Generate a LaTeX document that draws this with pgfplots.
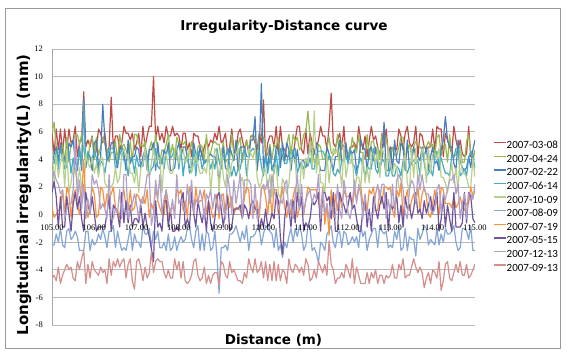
\documentclass[border=0pt]{standalone}
\usepackage{fontspec}
\usepackage{pgfplots}
\usepackage{pgfplotstable}
\pgfplotsset{compat=1.18}
\setmainfont{Carlito}
\newfontfamily\tickfont{Liberation Serif}
\newfontfamily\labfont{DejaVu Sans}
\definecolor{s1}{HTML}{BE4B48}
\definecolor{s2}{HTML}{98B954}
\definecolor{s3}{HTML}{4A7EBB}
\definecolor{s4}{HTML}{46AAC5}
\definecolor{s5}{HTML}{B7D08E}
\definecolor{s6}{HTML}{86A6D4}
\definecolor{s7}{HTML}{F69240}
\definecolor{s8}{HTML}{6F539B}
\definecolor{s9}{HTML}{B1A0C7}
\definecolor{s10}{HTML}{D48F8D}
% 2007-03-08
\pgfplotstableread[row sep=\\]{y\\
5.9\\4.4\\6.2\\4.7\\6.2\\4.4\\6.2\\4.7\\6.2\\5.2\\
5.4\\6.4\\4.2\\5.2\\5.4\\8.9\\4.9\\5.4\\4.9\\5.7\\
4.2\\4.7\\6.2\\5.9\\5.2\\5.9\\4.4\\4.9\\8.5\\4.7\\
5.7\\5.7\\4.7\\5.2\\6.4\\5.9\\5.9\\5.4\\5.9\\4.7\\
5.2\\5.9\\4.2\\6.4\\4.9\\5.7\\6.4\\6.4\\10.0\\5.4\\
6.4\\5.4\\5.9\\5.2\\6.4\\5.7\\5.7\\6.4\\5.7\\5.9\\
5.7\\4.7\\5.9\\5.9\\4.7\\5.2\\4.2\\5.9\\5.7\\5.7\\
4.9\\4.2\\4.9\\5.4\\4.9\\5.4\\5.2\\5.9\\5.4\\6.4\\
5.2\\5.4\\5.9\\4.4\\4.9\\6.2\\4.7\\4.4\\5.9\\6.2\\
5.4\\4.7\\5.4\\4.4\\5.7\\5.7\\5.2\\4.7\\5.9\\5.2\\
8.3\\4.0\\5.2\\5.7\\5.7\\4.9\\6.4\\4.4\\6.4\\4.9\\
4.7\\4.2\\4.2\\4.9\\4.2\\5.4\\6.4\\6.4\\4.7\\4.4\\
6.2\\4.4\\5.9\\5.2\\4.4\\4.9\\5.4\\6.4\\5.7\\5.7\\
4.7\\6.4\\8.8\\5.2\\4.9\\5.4\\5.9\\4.7\\6.4\\4.2\\
4.2\\4.9\\4.9\\5.2\\4.7\\6.4\\5.4\\4.7\\5.7\\4.2\\
5.4\\6.4\\5.4\\5.7\\4.9\\4.2\\5.9\\4.9\\6.2\\4.4\\
4.9\\4.7\\4.9\\4.7\\6.2\\5.7\\4.7\\5.9\\6.4\\5.2\\
4.9\\5.2\\6.4\\4.2\\5.9\\5.7\\4.9\\4.7\\4.9\\4.9\\
6.2\\4.7\\6.4\\6.2\\6.2\\4.2\\5.9\\5.4\\4.9\\4.4\\
6.4\\5.4\\4.7\\5.4\\4.4\\4.2\\4.4\\6.4\\4.2\\4.4\\4.4\\
}\tabA
% 2007-04-24
\pgfplotstableread[row sep=\\]{y\\
5.9\\6.7\\4.9\\4.5\\4.5\\5.1\\3.8\\5.6\\3.8\\5.1\\
5.3\\5.8\\5.8\\5.1\\5.8\\4.7\\3.8\\3.8\\5.3\\5.6\\
4.0\\5.6\\4.3\\4.9\\5.6\\5.1\\4.7\\3.8\\4.5\\4.5\\
5.3\\3.8\\5.8\\4.9\\5.1\\4.7\\4.3\\5.3\\3.8\\5.8\\
5.8\\5.1\\5.1\\4.9\\5.3\\3.8\\4.7\\5.3\\4.5\\5.8\\
4.7\\3.8\\4.7\\4.5\\5.1\\5.8\\4.3\\5.1\\4.0\\5.6\\
5.1\\5.3\\5.1\\5.3\\4.0\\4.5\\5.3\\4.3\\3.8\\4.9\\
5.1\\4.9\\3.8\\5.8\\4.3\\4.5\\5.1\\5.3\\5.1\\5.1\\
4.0\\5.3\\3.8\\4.0\\4.0\\5.8\\4.3\\4.7\\5.1\\5.6\\
3.8\\4.7\\5.3\\4.7\\5.6\\5.8\\5.6\\3.8\\5.8\\5.6\\
5.6\\4.7\\4.3\\5.1\\4.0\\5.1\\4.9\\5.6\\4.0\\4.3\\
3.8\\5.1\\5.8\\4.3\\5.8\\5.3\\5.6\\4.7\\4.9\\5.8\\
6.0\\7.5\\5.6\\4.9\\3.8\\3.8\\5.1\\4.9\\4.0\\4.0\\
4.9\\5.6\\4.5\\4.3\\4.7\\5.8\\3.8\\5.3\\4.9\\4.9\\
4.3\\4.5\\5.6\\4.9\\4.5\\5.8\\4.5\\4.5\\4.0\\5.8\\
4.0\\5.3\\5.3\\4.5\\4.9\\4.0\\5.8\\5.8\\5.6\\4.5\\
4.0\\4.9\\4.3\\4.3\\4.9\\5.6\\5.6\\4.0\\4.7\\5.1\\
4.3\\4.9\\5.3\\5.1\\4.9\\4.7\\4.9\\4.9\\5.3\\4.9\\
5.1\\4.3\\5.6\\5.8\\4.3\\4.7\\5.1\\3.8\\5.8\\4.3\\
4.3\\4.3\\4.9\\4.9\\3.8\\3.8\\5.3\\5.8\\4.5\\3.8\\4.7\\
}\tabB
% 2007-02-22
\pgfplotstableread[row sep=\\]{y\\
3.4\\4.4\\4.9\\3.9\\5.2\\3.9\\4.2\\3.4\\5.2\\4.9\\
5.4\\3.9\\3.2\\4.9\\3.2\\8.4\\3.4\\4.4\\4.2\\3.2\\
5.2\\5.4\\3.4\\4.2\\8.0\\5.4\\3.9\\4.2\\5.2\\5.2\\
4.2\\3.4\\4.7\\4.9\\4.4\\3.2\\5.4\\3.7\\4.2\\4.2\\
4.9\\4.7\\3.4\\4.2\\4.7\\3.2\\4.7\\4.7\\5.2\\3.2\\
5.2\\3.7\\3.7\\4.7\\4.2\\5.2\\3.2\\3.2\\3.4\\4.7\\
5.2\\4.2\\4.9\\4.9\\4.2\\3.4\\3.4\\5.2\\4.4\\3.9\\
4.9\\4.2\\3.7\\3.9\\4.2\\4.4\\4.2\\4.2\\3.7\\2.3\\
3.9\\4.9\\3.4\\3.2\\4.9\\4.4\\3.9\\5.4\\3.2\\4.9\\
4.9\\4.9\\4.2\\4.2\\5.4\\5.4\\7.1\\3.2\\4.7\\9.5\\
3.2\\4.4\\3.4\\4.9\\3.2\\3.7\\4.9\\4.7\\3.4\\5.2\\
3.9\\5.2\\4.7\\3.2\\4.7\\3.7\\4.7\\3.4\\3.9\\3.9\\
3.4\\3.9\\5.2\\4.2\\4.4\\5.2\\3.9\\3.2\\3.2\\3.2\\
4.9\\4.4\\3.7\\3.2\\4.2\\4.2\\5.4\\3.9\\3.9\\5.2\\
3.7\\4.7\\4.4\\4.7\\3.2\\3.7\\5.4\\4.9\\4.7\\3.2\\
4.7\\4.9\\3.9\\4.9\\3.4\\3.4\\3.9\\6.7\\3.2\\3.2\\
4.9\\3.2\\5.4\\3.9\\3.7\\5.2\\4.9\\3.2\\5.4\\3.4\\
3.7\\4.9\\4.2\\4.2\\3.9\\4.9\\4.2\\4.9\\3.2\\4.2\\
4.9\\3.7\\3.9\\3.2\\4.7\\5.4\\7.1\\5.4\\4.9\\4.9\\
3.7\\3.2\\5.4\\3.9\\3.4\\3.2\\3.4\\4.2\\3.4\\4.7\\5.4\\
}\tabC
% 2007-06-14
\pgfplotstableread[row sep=\\]{y\\
3.7\\3.7\\4.6\\3.3\\4.8\\4.3\\3.3\\3.5\\4.6\\3.0\\
4.1\\3.0\\3.5\\4.8\\3.5\\8.1\\3.5\\4.6\\4.1\\4.1\\
4.6\\4.1\\3.0\\3.9\\3.7\\3.0\\4.1\\4.8\\4.8\\4.8\\
3.3\\3.7\\4.3\\4.8\\3.9\\3.9\\2.8\\4.1\\4.1\\3.0\\
4.3\\3.5\\3.7\\3.5\\4.8\\4.3\\2.8\\3.3\\3.5\\4.8\\
3.5\\3.3\\4.1\\3.3\\4.6\\4.6\\4.1\\4.3\\4.8\\4.8\\
3.3\\4.8\\2.8\\4.1\\4.3\\3.0\\3.3\\4.8\\2.8\\4.6\\
4.3\\3.3\\3.9\\3.9\\4.1\\3.3\\3.9\\3.3\\4.8\\3.9\\
3.3\\4.3\\4.1\\4.8\\3.5\\2.8\\3.5\\2.8\\3.3\\3.3\\
4.3\\4.8\\2.8\\4.1\\4.6\\4.8\\4.6\\3.9\\4.6\\3.5\\
2.8\\4.3\\3.0\\4.1\\3.5\\3.0\\4.6\\2.8\\4.8\\4.3\\
3.7\\3.7\\4.6\\3.7\\4.6\\4.8\\3.0\\3.5\\3.7\\3.3\\
3.9\\3.5\\4.1\\3.3\\3.3\\4.3\\4.6\\4.6\\4.6\\4.3\\
3.7\\4.3\\4.1\\3.0\\2.8\\3.3\\3.0\\3.9\\3.9\\4.3\\
3.7\\4.8\\3.7\\3.5\\2.8\\3.7\\4.1\\3.5\\2.8\\3.5\\
3.3\\3.3\\4.8\\3.3\\3.0\\3.7\\3.9\\3.9\\2.8\\2.8\\
3.5\\2.8\\2.8\\3.5\\3.3\\2.8\\3.9\\3.5\\3.0\\3.5\\
3.9\\3.9\\3.7\\3.9\\2.8\\4.8\\3.7\\2.8\\3.0\\3.3\\
2.8\\4.1\\4.6\\3.5\\4.1\\3.5\\3.0\\3.0\\2.8\\4.3\\
4.1\\4.8\\4.8\\2.8\\3.0\\3.3\\2.8\\4.1\\4.6\\4.3\\3.3\\
}\tabD
% 2007-10-09
\pgfplotstableread[row sep=\\]{y\\
4.8\\2.3\\4.4\\2.7\\3.7\\4.4\\2.0\\4.8\\1.6\\2.3\\
3.4\\3.4\\2.0\\3.4\\2.0\\1.6\\4.4\\3.7\\3.4\\4.1\\
3.0\\3.7\\2.7\\4.1\\4.1\\2.3\\2.0\\2.0\\2.0\\2.3\\
3.4\\2.3\\2.7\\4.4\\4.8\\4.1\\4.4\\3.0\\3.0\\2.3\\
3.4\\1.6\\3.4\\3.7\\4.8\\3.4\\2.7\\3.7\\4.8\\3.7\\
4.1\\4.1\\1.6\\4.1\\4.4\\3.4\\3.0\\3.0\\4.8\\4.8\\
3.7\\4.8\\4.8\\3.7\\4.1\\4.8\\3.0\\3.7\\4.4\\3.7\\
3.0\\3.0\\3.4\\3.0\\4.8\\1.6\\3.4\\4.8\\4.4\\1.4\\
4.8\\2.7\\2.0\\3.7\\2.7\\3.7\\4.4\\4.4\\4.8\\2.3\\
2.7\\1.6\\1.6\\4.8\\4.4\\4.1\\4.8\\2.7\\2.0\\2.3\\
3.3\\3.3\\1.9\\2.9\\1.2\\3.3\\3.6\\1.5\\1.2\\2.6\\
2.2\\1.5\\2.2\\4.0\\4.0\\4.0\\1.5\\1.5\\4.0\\2.6\\
4.1\\3.7\\5.3\\3.4\\7.5\\3.0\\4.4\\2.3\\2.3\\1.6\\
4.4\\2.3\\3.7\\4.8\\4.4\\4.8\\3.4\\2.0\\4.8\\2.7\\
3.7\\3.7\\4.4\\1.6\\2.7\\2.7\\2.0\\4.4\\2.3\\3.4\\
2.3\\4.4\\4.4\\3.7\\4.8\\2.7\\4.8\\4.4\\3.0\\4.8\\
3.7\\3.0\\3.7\\3.4\\2.0\\1.6\\3.4\\4.4\\2.3\\1.6\\
4.8\\2.7\\4.8\\2.3\\2.7\\4.8\\4.4\\2.3\\4.8\\3.0\\
4.4\\4.4\\4.1\\4.8\\2.7\\2.7\\2.3\\1.6\\2.7\\3.7\\
2.3\\3.4\\1.6\\4.8\\3.0\\3.0\\2.7\\2.0\\2.0\\4.1\\2.7\\
}\tabE
% 2007-08-09
\pgfplotstableread[row sep=\\]{y\\
-2.2\\-2.2\\-1.4\\-2.0\\-1.0\\-2.2\\-2.4\\-1.2\\-1.0\\-1.8\\
-1.6\\-1.2\\-1.6\\-2.6\\-2.6\\-2.6\\-1.2\\-1.2\\-2.6\\-1.8\\
-2.2\\-2.0\\-1.4\\-1.8\\-1.0\\-1.6\\-2.4\\-1.2\\-1.2\\-0.8\\
-2.4\\-1.2\\-2.0\\-2.6\\-2.4\\-2.6\\-1.8\\-1.0\\-2.6\\-1.4\\
-2.0\\-2.0\\-2.4\\-0.8\\-1.4\\-1.4\\-1.0\\-2.4\\-1.2\\-1.8\\
-1.2\\-2.4\\-2.4\\-2.0\\-2.6\\-1.4\\-2.6\\-2.4\\-1.6\\-2.6\\
-2.0\\-1.6\\-2.0\\-1.8\\-1.0\\-0.8\\-1.8\\-2.4\\-1.2\\-0.8\\
-2.6\\-1.4\\-2.6\\-1.2\\-1.4\\-2.6\\-2.4\\-1.2\\-3.0\\-5.7\\
-2.4\\-2.4\\-2.2\\-2.6\\-1.4\\-1.4\\-1.2\\-0.8\\-1.4\\-2.0\\
-1.2\\-1.8\\-0.8\\-2.6\\-1.6\\-1.6\\-1.4\\-1.0\\-1.0\\-2.2\\
-1.4\\-0.8\\-1.0\\-1.2\\-1.4\\-2.4\\-1.0\\-2.6\\-2.2\\-3.1\\
-2.0\\-2.4\\-1.6\\-1.0\\-2.0\\-1.0\\-1.6\\-0.8\\-1.4\\-2.6\\
-2.2\\-0.8\\-1.0\\-2.6\\-2.4\\-2.8\\-3.5\\-2.0\\-2.2\\-2.6\\
-1.4\\-1.2\\-0.8\\-2.0\\-2.4\\-1.4\\-1.2\\-2.4\\-1.2\\-1.4\\
-2.2\\-2.0\\-1.6\\-2.0\\-1.6\\-2.4\\-0.8\\-1.6\\-1.2\\-2.6\\
-1.8\\-1.4\\-1.0\\-1.0\\-2.4\\-0.8\\-1.2\\-1.4\\-1.2\\-2.4\\
-2.2\\-2.4\\-1.2\\-1.8\\-0.8\\-2.6\\-2.4\\-1.0\\-2.6\\-1.6\\
-1.8\\-1.8\\-3.0\\-1.0\\-1.8\\-1.4\\-0.8\\-1.0\\-2.2\\-1.8\\
-2.0\\-2.2\\-1.0\\-2.2\\-1.4\\-2.0\\-1.0\\-1.4\\-1.4\\-1.2\\
-0.8\\-2.0\\-2.6\\-2.4\\-1.0\\-1.0\\-1.2\\-1.8\\-0.8\\-2.6\\-2.6\\
}\tabF
% 2007-07-19
\pgfplotstableread[row sep=\\]{y\\
0.5\\-0.2\\0.0\\0.3\\0.5\\1.8\\0.0\\2.0\\1.5\\-0.2\\
1.3\\1.8\\0.8\\0.0\\1.3\\4.0\\0.8\\-0.2\\0.5\\2.0\\
1.5\\-0.2\\0.0\\2.0\\1.8\\0.5\\1.5\\1.3\\1.5\\2.0\\
0.5\\0.3\\-0.2\\1.3\\1.8\\0.5\\0.3\\1.8\\0.3\\0.5\\
1.5\\1.3\\0.8\\1.3\\0.8\\1.8\\-0.2\\0.8\\0.3\\2.0\\
1.0\\0.5\\0.0\\0.0\\1.8\\-0.2\\0.3\\0.5\\0.3\\1.8\\
1.5\\1.8\\0.3\\1.0\\-0.2\\2.0\\1.8\\0.0\\2.0\\0.8\\
1.0\\1.0\\1.8\\0.0\\1.0\\0.5\\-0.2\\0.0\\1.5\\-0.3\\
1.3\\1.5\\0.0\\1.5\\0.5\\1.3\\0.0\\0.5\\0.5\\0.3\\
-0.2\\1.3\\2.0\\1.8\\0.0\\0.0\\0.3\\1.0\\-0.2\\2.0\\
2.0\\1.3\\0.0\\1.8\\0.0\\1.8\\1.8\\0.0\\1.0\\2.0\\
0.5\\-0.2\\0.8\\0.0\\1.3\\2.0\\-0.2\\0.5\\1.0\\0.0\\
1.0\\2.0\\1.8\\1.8\\1.8\\1.8\\1.0\\0.0\\2.0\\-0.7\\
0.8\\-1.5\\1.8\\-0.2\\1.5\\0.3\\1.5\\0.5\\1.8\\1.3\\
1.3\\1.5\\0.5\\1.8\\1.0\\1.8\\2.0\\0.8\\0.3\\0.3\\
1.8\\1.5\\2.0\\0.3\\0.3\\1.8\\0.8\\2.0\\2.0\\1.8\\
2.0\\0.3\\-0.2\\1.8\\1.3\\2.3\\-0.2\\1.0\\1.8\\0.3\\
1.0\\1.5\\0.8\\2.0\\0.3\\1.5\\2.0\\1.3\\0.0\\-0.2\\
0.8\\1.8\\0.8\\0.0\\2.0\\1.8\\0.8\\0.8\\0.8\\0.5\\
1.3\\0.5\\0.8\\1.3\\0.5\\0.3\\0.8\\0.8\\2.0\\1.3\\1.8\\
}\tabG
% 2007-05-15
\pgfplotstableread[row sep=\\]{y\\
1.6\\2.4\\1.3\\-0.9\\1.3\\-0.9\\-0.9\\1.3\\0.1\\-1.2\\
0.7\\1.6\\0.4\\1.3\\-0.3\\-1.2\\1.6\\0.7\\0.1\\1.3\\
0.1\\-1.2\\-0.9\\-0.9\\-0.9\\-0.9\\0.1\\1.3\\-1.2\\0.7\\
0.4\\0.1\\-0.9\\1.6\\-0.6\\1.0\\-0.6\\0.7\\-0.9\\-0.3\\
-0.3\\-0.6\\0.7\\-0.9\\0.1\\-0.9\\-1.6\\-2.5\\-3.4\\1.0\\
-0.9\\-0.6\\-1.2\\1.0\\1.0\\-0.9\\0.4\\-1.2\\-1.2\\-0.9\\
-1.2\\1.0\\1.6\\-0.9\\-0.3\\-0.9\\1.6\\0.1\\-0.9\\1.0\\
0.1\\-0.6\\0.4\\-1.2\\1.0\\-0.6\\-1.2\\-0.3\\1.3\\1.6\\
0.4\\-0.9\\0.4\\1.3\\-1.2\\-0.9\\0.4\\0.4\\0.4\\0.7\\
-0.3\\0.7\\0.4\\-0.3\\0.7\\1.0\\0.4\\0.4\\-1.2\\-0.3\\
-0.9\\0.4\\-0.9\\-0.6\\0.1\\-0.3\\1.6\\1.0\\-1.7\\-2.9\\
-0.3\\1.0\\0.4\\-0.9\\1.0\\-0.6\\1.6\\0.4\\1.3\\-1.2\\
-0.6\\-0.9\\-0.3\\1.0\\0.7\\1.0\\1.6\\-1.2\\1.6\\1.6\\
1.0\\1.3\\-0.3\\1.6\\-1.2\\-1.2\\1.6\\1.0\\0.7\\0.1\\
0.7\\1.6\\0.4\\0.7\\-0.3\\-1.2\\-1.2\\0.4\\1.3\\-0.9\\
0.4\\-1.2\\1.3\\0.4\\-0.3\\0.7\\1.3\\0.4\\1.6\\-1.2\\
0.7\\0.4\\0.7\\1.3\\-0.6\\0.7\\-0.9\\1.3\\0.4\\0.7\\
-0.3\\0.4\\1.6\\0.1\\0.4\\-0.3\\1.0\\0.1\\0.7\\1.3\\
0.1\\1.0\\1.6\\-1.2\\-0.3\\1.3\\-0.9\\0.7\\-0.3\\-1.2\\
1.6\\-0.9\\-0.9\\-0.9\\-0.6\\1.6\\-0.6\\1.6\\1.3\\-0.3\\-0.6\\
}\tabH
% 2007-12-13
\pgfplotstableread[row sep=\\]{y\\
2.6\\3.1\\2.5\\2.2\\1.5\\1.8\\-0.3\\0.4\\0.8\\0.8\\
1.8\\5.6\\1.1\\2.5\\0.4\\2.2\\-0.3\\1.1\\0.1\\2.9\\
2.2\\2.5\\1.8\\0.4\\0.8\\0.4\\-0.3\\2.9\\-0.3\\-0.3\\
0.4\\0.1\\1.8\\-0.3\\2.9\\2.9\\-0.3\\0.4\\0.8\\1.5\\
0.8\\-0.3\\1.1\\0.8\\1.8\\2.9\\2.9\\-0.8\\0.1\\2.5\\
1.1\\2.9\\0.1\\1.1\\1.8\\0.8\\0.1\\1.1\\-0.3\\2.9\\
0.8\\1.1\\0.8\\0.1\\2.2\\0.8\\2.5\\0.1\\1.1\\0.8\\
1.8\\1.1\\-0.3\\1.5\\1.1\\1.8\\0.4\\1.5\\0.8\\0.1\\
1.5\\0.4\\-0.3\\2.9\\1.8\\0.1\\2.5\\0.8\\1.8\\2.9\\
-0.3\\2.5\\2.5\\2.5\\2.2\\-0.3\\2.2\\-0.3\\0.1\\1.8\\
2.2\\1.8\\2.5\\0.8\\2.9\\1.8\\1.1\\0.4\\1.1\\0.8\\
2.2\\2.5\\0.1\\1.1\\-0.3\\1.5\\2.9\\0.4\\2.2\\0.1\\
1.1\\1.5\\1.8\\0.8\\1.5\\1.1\\2.9\\-0.3\\1.8\\0.1\\
0.8\\-0.3\\0.8\\0.1\\-0.3\\2.2\\0.4\\-0.3\\2.5\\1.5\\
0.1\\-0.3\\0.8\\2.5\\0.8\\2.2\\1.5\\-0.3\\1.5\\0.1\\
-0.3\\0.1\\0.1\\1.5\\2.2\\1.1\\2.2\\2.2\\-0.3\\1.1\\
0.1\\2.2\\0.1\\2.5\\2.9\\2.5\\1.8\\0.1\\-0.3\\1.8\\
2.5\\2.2\\0.8\\2.9\\1.8\\2.9\\1.8\\1.5\\1.5\\0.4\\
0.1\\0.4\\1.8\\2.2\\0.1\\1.5\\1.1\\1.8\\2.5\\2.5\\
2.9\\1.5\\2.2\\-0.3\\0.8\\1.5\\-0.3\\1.5\\1.5\\1.1\\2.2\\
}\tabK
% 2007-09-13
\pgfplotstableread[row sep=\\]{y\\
-4.6\\-4.4\\-4.8\\-3.8\\-5.0\\-4.4\\-4.0\\-3.6\\-4.0\\-3.8\\
-4.6\\-4.8\\-3.4\\-4.0\\-3.2\\-2.6\\-5.0\\-3.6\\-4.6\\-3.4\\
-4.0\\-4.2\\-4.4\\-3.8\\-4.2\\-4.0\\-5.0\\-3.2\\-4.4\\-3.4\\
-3.8\\-3.2\\-3.8\\-3.4\\-3.2\\-4.6\\-3.6\\-3.2\\-4.8\\-5.4\\
-3.4\\-3.2\\-3.8\\-4.8\\-3.8\\-4.6\\-4.2\\-2.7\\-4.2\\-3.4\\
-3.2\\-3.4\\-3.4\\-4.2\\-4.6\\-4.0\\-4.6\\-4.6\\-3.2\\-4.0\\
-3.4\\-4.6\\-3.4\\-4.8\\-5.0\\-4.8\\-4.4\\-3.4\\-3.2\\-4.4\\
-4.8\\-4.6\\-3.8\\-5.0\\-4.4\\-5.0\\-4.4\\-4.2\\-4.2\\-5.1\\
-3.4\\-3.6\\-4.4\\-4.6\\-3.4\\-4.2\\-4.0\\-4.4\\-4.8\\-4.8\\
-5.0\\-4.2\\-4.6\\-3.2\\-3.8\\-4.2\\-3.2\\-4.2\\-4.0\\-3.4\\
-4.6\\-3.4\\-4.8\\-3.6\\-4.8\\-3.4\\-4.8\\-3.6\\-4.8\\-4.0\\
-4.2\\-5.0\\-3.2\\-4.0\\-4.2\\-3.6\\-3.8\\-4.2\\-3.8\\-4.4\\
-3.2\\-3.6\\-4.8\\-4.6\\-4.0\\-4.6\\-3.4\\-3.8\\-4.2\\-3.6\\
-4.4\\-1.9\\-3.6\\-4.0\\-5.0\\-4.6\\-4.6\\-4.2\\-4.6\\-3.6\\
-4.0\\-4.6\\-3.2\\-5.0\\-3.8\\-4.4\\-5.0\\-5.0\\-5.0\\-4.2\\
-5.0\\-4.2\\-4.6\\-4.0\\-5.0\\-4.4\\-4.4\\-5.0\\-4.4\\-4.6\\
-4.4\\-3.6\\-4.6\\-4.6\\-3.6\\-4.0\\-3.2\\-4.6\\-4.4\\-4.4\\
-3.8\\-3.2\\-3.8\\-4.2\\-3.8\\-4.2\\-5.3\\-4.6\\-4.2\\-5.0\\
-4.0\\-4.2\\-4.6\\-3.4\\-5.5\\-4.8\\-3.6\\-3.4\\-4.6\\-4.8\\
-4.2\\-3.6\\-4.2\\-3.4\\-4.4\\-4.4\\-3.6\\-4.6\\-4.4\\-4.0\\-3.6\\
}\tabM

\begin{document}
\begin{tikzpicture}[x=1pt,y=1pt]
\useasboundingbox (0,0) rectangle (567,351);
\draw[color=black!40, line width=0.8pt] (5.5,2.5) rectangle (560.5,343);
\node[font=\labfont\bfseries\fontsize{13.6}{16}\selectfont] at (284,324) {Irregularity-Distance curve};
\node[rotate=90, font=\labfont\bfseries\fontsize{15}{17}\selectfont] at (24,156) {Longitudinal irregularity(L) (mm)};
\node[font=\labfont\bfseries\fontsize{13.5}{16}\selectfont] at (273.5,11) {Distance (m)};
\begin{axis}[
  scale only axis, width=423pt, height=276pt,
  at={(52pt,26pt)}, anchor=south west,
  xmin=105, xmax=115, ymin=-8, ymax=12,
  xtick={105,106,...,115}, ytick={-8,-6,...,12},
  xticklabels={},
  axis x line*=middle, axis y line*=left,
  axis line style={draw=black!35, line width=0.8pt},
  major tick length=0pt,
  ymajorgrids, grid style={draw=black!28, line width=0.8pt},
  /pgf/number format/assume math mode=true,
  yticklabel style={font=\tickfont\fontsize{8.5}{10}\selectfont, inner sep=1pt, xshift=-8pt},
  legend style={at={(1.0426,0.665)}, anchor=north west, draw=none, fill=none,
    font=\fontsize{11}{12}\selectfont, inner sep=0pt, row sep=4.6pt,
    nodes={inner sep=0pt, text height=7pt, text depth=2pt}},
  legend cell align=left,
  legend image code/.code={\draw[#1, line width=1.5pt] (0pt,3.5pt) -- (12pt,3.5pt);},
  every axis plot/.append style={line width=1.2pt, line join=round},
]
\addplot[s1, no markers] table[x expr=105+0.05*\coordindex, y=y] {\tabA};
\addplot[s2, no markers] table[x expr=105+0.05*\coordindex, y=y] {\tabB};
\addplot[s3, no markers] table[x expr=105+0.05*\coordindex, y=y] {\tabC};
\addplot[s4, no markers] table[x expr=105+0.05*\coordindex, y=y] {\tabD};
\addplot[s5, no markers] table[x expr=105+0.05*\coordindex, y=y] {\tabE};
\addplot[s6, no markers] table[x expr=105+0.05*\coordindex, y=y] {\tabF};
\addplot[s7, no markers] table[x expr=105+0.05*\coordindex, y=y] {\tabG};
\addplot[s8, no markers] table[x expr=105+0.05*\coordindex, y=y] {\tabH};
\addplot[s9, no markers] table[x expr=105+0.05*\coordindex, y=y] {\tabK};
\addplot[s10, no markers] table[x expr=105+0.05*\coordindex, y=y] {\tabM};
\legend{2007-03-08,2007-04-24,2007-02-22,2007-06-14,2007-10-09,2007-08-09,2007-07-19,2007-05-15,2007-12-13,2007-09-13}
\end{axis}
\begin{axis}[
  scale only axis, width=423pt, height=276pt,
  at={(52pt,26pt)}, anchor=south west,
  xmin=105, xmax=115, ymin=-8, ymax=12,
  xtick={105,106,...,115}, ytick=\empty,
  axis x line*=middle, axis y line*=left,
  hide obscured x ticks=false,
  axis line style={draw=none},
  major tick length=0pt,
  /pgf/number format/assume math mode=true,
  xticklabel={\pgfmathprintnumber[fixed,fixed zerofill,precision=2]{\tick}},
  xticklabel style={font=\tickfont\fontsize{8.5}{10}\selectfont, inner sep=1pt, yshift=-9pt},
]
\end{axis}
\end{tikzpicture}
\end{document}
